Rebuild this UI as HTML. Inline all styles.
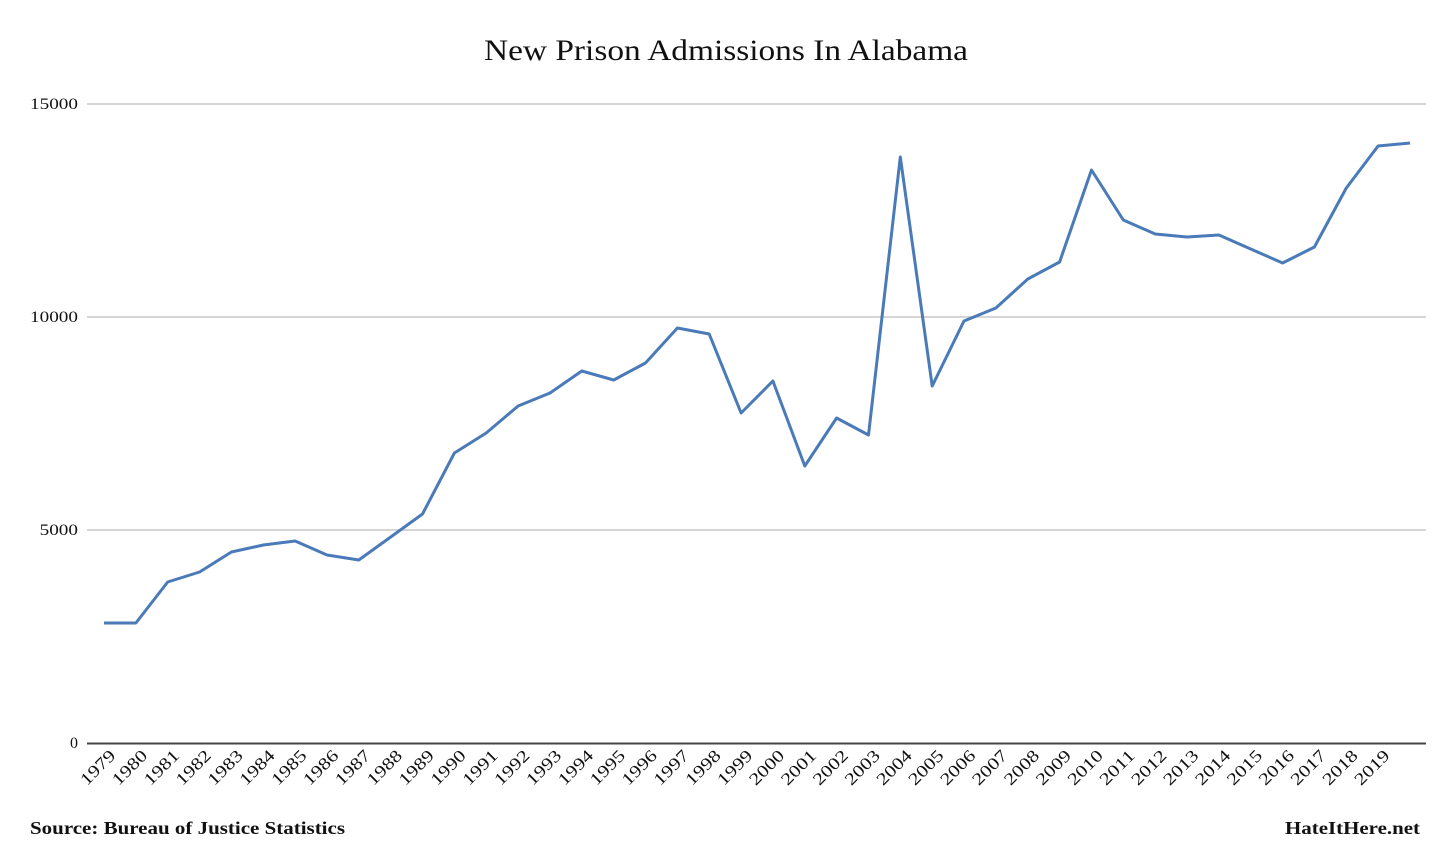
<!DOCTYPE html>
<html><head><meta charset="utf-8"><style>
body{margin:0;background:#fff;width:1456px;height:850px;overflow:hidden}
svg{display:block}
text{font-family:"Liberation Serif",serif;fill:#111}
</style></head><body>
<svg width="1456" height="850">
<text x="484" y="60" font-size="30" textLength="484" lengthAdjust="spacingAndGlyphs">New Prison Admissions In Alabama</text>
<g id="grid"></g>
<g id="xl"></g>
<path id="line" fill="none" stroke="#4a7ab8" stroke-width="3" stroke-linejoin="round"/>
<line x1="87" x2="1426" y1="743.5" y2="743.5" stroke="#444" stroke-width="2"/>
<text x="30" y="834" font-size="18" font-weight="bold" textLength="315" lengthAdjust="spacingAndGlyphs">Source: Bureau of Justice Statistics</text>
<text x="1285" y="834" font-size="18" font-weight="bold" textLength="135" lengthAdjust="spacingAndGlyphs">HateItHere.net</text>
</svg>
<script>
const years=[1979,1980,1981,1982,1983,1984,1985,1986,1987,1988,1989,1990,1991,1992,1993,1994,1995,1996,1997,1998,1999,2000,2001,2002,2003,2004,2005,2006,2007,2008,2009,2010,2011,2012,2013,2014,2015,2016,2017,2018,2019,2020];
const admissions=[2817,2817,3779,4014,4484,4648,4742,4413,4296,4836,5376,6808,7277,7911,8216,8732,8521,8920,9742,9601,7746,8498,6502,7629,7230,13756,8380,9906,10211,10892,11291,13451,12277,11948,11878,11925,11596,11268,11643,13028,14014,14085];
const yTicks=[0,5000,10000,15000];
const xLabels=years.slice(0,41);
const NS="http://www.w3.org/2000/svg";
const x=i=>104+i*(1410-104)/(years.length-1);
const y=v=>743-v*(213/5000);
const grid=document.getElementById('grid');
yTicks.forEach(t=>{
  if(t>0){const l=document.createElementNS(NS,'line');
  l.setAttribute('x1',87);l.setAttribute('x2',1426);l.setAttribute('y1',y(t));l.setAttribute('y2',y(t));
  l.setAttribute('stroke','#c8c8c8');l.setAttribute('stroke-width','1.5');
  
  
  grid.appendChild(l);}
  const tx=document.createElementNS(NS,'text');
  tx.setAttribute('x',78);tx.setAttribute('y',y(t)+5);tx.setAttribute('text-anchor','end');tx.setAttribute('font-size','16');
  const s=String(t);
  if(s.length>1){tx.setAttribute('textLength',s.length*9.6);tx.setAttribute('lengthAdjust','spacingAndGlyphs');}
  tx.textContent=s;
  
  
  grid.appendChild(tx);
});
const xl=document.getElementById('xl');
xLabels.forEach((yr,i)=>{
  const t=document.createElementNS(NS,'text');
  const ax=x(i)+9,ay=758;
  t.setAttribute('x',ax);t.setAttribute('y',ay);t.setAttribute('text-anchor','end');t.setAttribute('font-size','17');
  t.setAttribute('textLength','42');t.setAttribute('lengthAdjust','spacingAndGlyphs');
  t.setAttribute('transform','rotate(-45 '+ax+' '+(ay-5)+')');
  t.textContent=yr;
  
  
  xl.appendChild(t);
});
document.getElementById('line').setAttribute('d',admissions.map((v,i)=>(i?'L':'M')+x(i).toFixed(1)+','+y(v).toFixed(1)).join(''));
</script>
</body></html>
